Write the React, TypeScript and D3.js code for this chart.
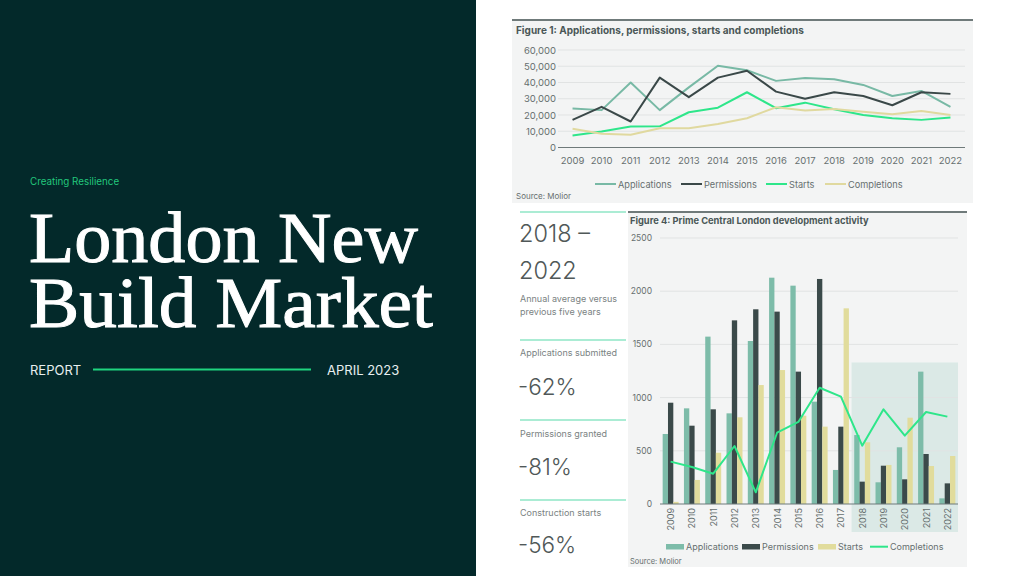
import React from 'react';
import * as d3 from 'd3';

const years = ['2009', '2010', '2011', '2012', '2013', '2014', '2015', '2016', '2017', '2018', '2019', '2020', '2021', '2022'];

// Figure 1 (units)
const f1Applications = [24000, 23000, 40000, 23000, 37000, 50300, 47500, 41000, 42700, 42000, 38500, 31700, 34800, 25000];
const f1Permissions = [17000, 25000, 16000, 43000, 31000, 43000, 47200, 34400, 30000, 34000, 31700, 26000, 34000, 33000];
const f1Starts = [7400, 9800, 12900, 13000, 21700, 24500, 34000, 24200, 27600, 23500, 20000, 18000, 17000, 18400];
const f1Completions = [11500, 8400, 7800, 11900, 11900, 14500, 18000, 24800, 22700, 23700, 22000, 20500, 22500, 20000];
const f1Ticks = [0, 10000, 20000, 30000, 40000, 50000, 60000];

// Figure 4 (units)
const f4Applications = [658, 899, 1573, 852, 1532, 2127, 2052, 962, 320, 648, 204, 533, 1244, 53];
const f4Permissions = [952, 736, 890, 1726, 1830, 1808, 1244, 2115, 727, 210, 360, 232, 470, 194];
const f4Starts = [20, 226, 482, 815, 1118, 1259, 830, 727, 1839, 580, 367, 811, 357, 451];
const f4Completions = [398, 348, 285, 545, 110, 670, 771, 1093, 1009, 548, 890, 642, 865, 821];
const f4Ticks = [0, 500, 1000, 1500, 2000, 2500];
const f4ShadeFrom = '2018';
const f4ShadeTop = 1330;

const stats = [
  { label: 'Applications submitted', value: '-62%' },
  { label: 'Permissions granted', value: '-81%' },
  { label: 'Construction starts', value: '-56%' },
];

const C = {
  dark: '#03292a',
  app: '#78b9a5',
  perm: '#3a4848',
  starts: '#2ee68a',
  comp: '#e0d99f',
  bars4: { app: '#7dbca9', perm: '#3b4a4a', starts: '#e1dc9c' },
  panel: '#f3f4f4',
  grid: '#e1e3e3',
  axis: '#6f7a7a',
  text: '#666f6f',
  title: '#4a5757',
  mint: '#8fe6c6',
};

const SANS = 'Inter, "Noto Sans", sans-serif';

function Figure1() {
  const x = d3.scaleBand<string>().domain(years).range([558, 965]);
  const y = d3.scaleLinear().domain([0, 60000]).range([147.5, 50]);
  const cx = (yr: string) => (x(yr) as number) + x.bandwidth() / 2;
  const mk = (vals: number[]) =>
    d3.line<number>().x((_, i) => cx(years[i])).y((v) => y(v))(vals) as string;
  const series = [
    { name: 'Applications', vals: f1Applications, color: C.app, lx: 595 },
    { name: 'Permissions', vals: f1Permissions, color: C.perm, lx: 681 },
    { name: 'Starts', vals: f1Starts, color: C.starts, lx: 766 },
    { name: 'Completions', vals: f1Completions, color: C.comp, lx: 825 },
  ];
  const fmt = d3.format(',');
  return (
    <g>
      <rect x={512} y={20} width={461} height={183} fill={C.panel} />
      <line x1={512} x2={973} y1={20} y2={20} stroke={C.axis} strokeWidth={2} />
      <text x={516} y={33.5} fontFamily={SANS} fontWeight={700} fontSize={10} fill={C.title}>
        Figure 1: Applications, permissions, starts and completions
      </text>
      {f1Ticks.map((t) => (
        <g key={t}>
          {t > 0 && <line x1={558} x2={965} y1={y(t)} y2={y(t)} stroke={C.grid} strokeWidth={1} />}
          <text x={556} y={y(t) + 3.5} textAnchor="end" fontFamily={SANS} fontSize={9.5} fill={C.text}>
            {fmt(t)}
          </text>
        </g>
      ))}
      <line x1={558} x2={965} y1={y(0)} y2={y(0)} stroke={C.axis} strokeWidth={1.2} />
      {years.map((yr) => (
        <text key={yr} x={cx(yr)} y={164} textAnchor="middle" fontFamily={SANS} fontSize={9.5} fill={C.text}>
          {yr}
        </text>
      ))}
      {series.map((s) => (
        <path key={s.name} d={mk(s.vals)} fill="none" stroke={s.color} strokeWidth={2} strokeLinejoin="round" />
      ))}
      {series.map((s) => (
        <g key={s.name}>
          <line x1={s.lx} x2={s.lx + 21} y1={184} y2={184} stroke={s.color} strokeWidth={2} />
          <text x={s.lx + 23} y={187.5} fontFamily={SANS} fontSize={9.2} fill={C.text}>
            {s.name}
          </text>
        </g>
      ))}
      <text x={516} y={198.5} fontFamily={SANS} fontSize={8} fill={C.text}>
        Source: Molior
      </text>
    </g>
  );
}

function Figure4() {
  const x0 = d3.scaleBand<string>().domain(years).range([660, 958]).paddingInner(0.25).paddingOuter(0.125);
  const keys = ['app', 'perm', 'starts'];
  const x1 = d3.scaleBand<string>().domain(keys).range([0, x0.bandwidth()]);
  const y = d3.scaleLinear().domain([0, 2500]).range([504, 238]);
  const step = x0.step();
  const cx = (yr: string) => (x0(yr) as number) + x0.bandwidth() / 2;
  const data: Record<string, number[]> = { app: f4Applications, perm: f4Permissions, starts: f4Starts };
  const line = d3.line<number>().x((_, i) => cx(years[i])).y((v) => y(v))(f4Completions) as string;
  const shadeX = (x0(f4ShadeFrom) as number) - step * 0.125;
  const legend = [
    { name: 'Applications', color: C.bars4.app, lx: 666, kind: 'rect' },
    { name: 'Permissions', color: C.bars4.perm, lx: 742, kind: 'rect' },
    { name: 'Starts', color: C.bars4.starts, lx: 818, kind: 'rect' },
    { name: 'Completions', color: C.starts, lx: 870, kind: 'line' },
  ];
  return (
    <g>
      <rect x={628} y={212} width={339} height={355} fill={C.panel} />
      <line x1={628} x2={967} y1={212} y2={212} stroke={C.axis} strokeWidth={2} />
      <text x={630} y={223.5} fontFamily={SANS} fontWeight={700} fontSize={9.3} fill={C.title}>
        Figure 4: Prime Central London development activity
      </text>
      <rect x={shadeX} y={y(f4ShadeTop)} width={958 - shadeX} height={532 - y(f4ShadeTop)} fill="#dbe9e6" />
      {f4Ticks.map((t) => (
        <g key={t}>
          {t > 0 && <line x1={660} x2={958} y1={y(t)} y2={y(t)} stroke={C.grid} strokeWidth={1} />}
          <text x={652} y={y(t) + 3} textAnchor="end" fontFamily={SANS} fontSize={8.5} fill={C.text}>
            {t}
          </text>
        </g>
      ))}
      {years.map((yr, i) => (
        <g key={yr}>
          {keys.map((k) => (
            <rect
              key={k}
              x={(x0(yr) as number) + (x1(k) as number)}
              y={y(data[k][i])}
              width={x1.bandwidth()}
              height={y(0) - y(data[k][i])}
              fill={(C.bars4 as any)[k]}
            />
          ))}
        </g>
      ))}
      <line x1={660} x2={958} y1={y(0)} y2={y(0)} stroke={C.axis} strokeWidth={1.2} />
      <path d={line} fill="none" stroke={C.starts} strokeWidth={2} strokeLinejoin="round" />
      {years.map((yr) => (
        <text
          key={yr}
          transform={`translate(${cx(yr) + 3.5},508) rotate(-90)`}
          textAnchor="end"
          fontFamily={SANS}
          fontSize={9}
          fill={C.text}
        >
          {yr}
        </text>
      ))}
      {legend.map((s) =>
        <g key={s.name}>
          {s.kind === 'rect' ? (
            <rect x={s.lx} y={544} width={18} height={5.5} fill={s.color} />
          ) : (
            <line x1={s.lx} x2={s.lx + 18} y1={546.7} y2={546.7} stroke={s.color} strokeWidth={2} />
          )}
          <text x={s.lx + 20} y={550} fontFamily={SANS} fontSize={9} fill={C.text}>
            {s.name}
          </text>
        </g>
      )}
      <text x={630} y={563.5} fontFamily={SANS} fontSize={7.5} fill={C.text}>
        Source: Molior
      </text>
    </g>
  );
}

function Stats() {
  const lineYs = [212, 340, 420, 500];
  const labelYs = [356, 437, 516];
  const valueYs = [395, 475, 553];
  return (
    <g fontFamily={SANS}>
      {lineYs.map((ly) => (
        <line key={ly} x1={520} x2={626} y1={ly} y2={ly} stroke={C.mint} strokeWidth={1.3} />
      ))}
      <text x={519} y={242} fontSize={23.5} fontWeight={300} fill="#505858">2018 –</text>
      <text x={519} y={279} fontSize={23.5} fontWeight={300} fill="#505858">2022</text>
      <text x={520} y={302} fontSize={9} fill="#7a8282">Annual average versus</text>
      <text x={520} y={315} fontSize={9} fill="#7a8282">previous five years</text>
      {stats.map((s, i) => (
        <g key={s.label}>
          <text x={520} y={labelYs[i]} fontSize={9} fill="#7a8282">{s.label}</text>
          <text x={518} y={valueYs[i]} fontSize={22.5} fontWeight={300} fill="#505858">{s.value}</text>
        </g>
      ))}
    </g>
  );
}

function Cover() {
  const serif = '"Liberation Serif", serif';
  return (
    <g>
      <rect x={0} y={0} width={476} height={576} fill={C.dark} />
      <text x={30} y={184.5} fontFamily={SANS} fontSize={9.8} fill="#22c77c">Creating Resilience</text>
      <text x={29} y={262} fontFamily={serif} fontSize={66} fill="#ffffff" stroke="#ffffff" strokeWidth={0.9}
        textLength={389} lengthAdjust="spacingAndGlyphs" transform="translate(0,262) scale(1,1.1) translate(0,-262)">
        London New
      </text>
      <text x={29} y={327} fontFamily={serif} fontSize={66} fill="#ffffff" stroke="#ffffff" strokeWidth={0.9}
        textLength={404} lengthAdjust="spacingAndGlyphs" transform="translate(0,327) scale(1,1.1) translate(0,-327)">
        Build Market
      </text>
      <text x={30} y={375} fontFamily={SANS} fontSize={13} fill="#e8efef">REPORT</text>
      <line x1={93} x2={311} y1={369.5} y2={369.5} stroke="#1fd47f" strokeWidth={2} />
      <text x={327} y={375} fontFamily={SANS} fontSize={13} fill="#e8efef">APRIL 2023</text>
    </g>
  );
}

export default function App() {
  return (
    <svg
      width={1024}
      height={576}
      viewBox="0 0 1024 576"
      style={{ position: 'fixed', left: 0, top: 0, background: '#ffffff' }}
    >
      <rect x={0} y={0} width={1024} height={576} fill="#ffffff" />
      <Cover />
      <Figure1 />
      <Stats />
      <Figure4 />
    </svg>
  );
}
